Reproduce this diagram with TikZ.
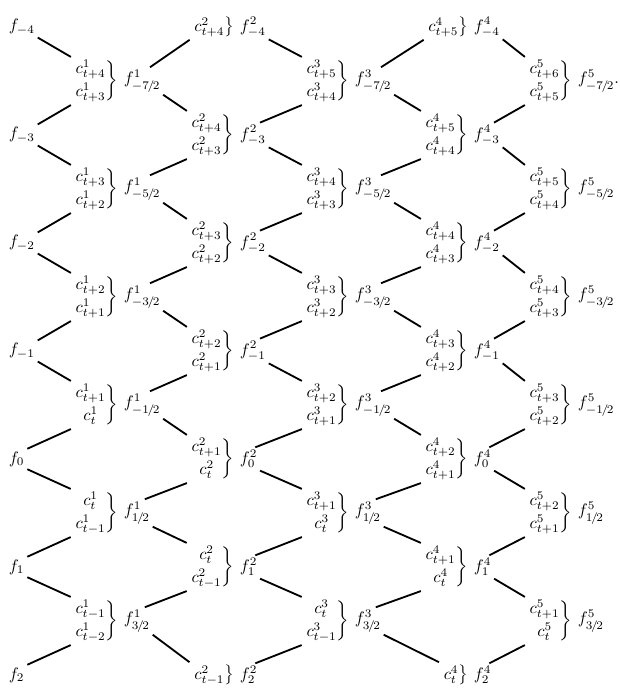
\documentclass[tikz,border=0pt]{standalone}
\usepackage{amsmath,amssymb}
\usepackage{tikz}
\usetikzlibrary{positioning,calc}
\newcommand{\cpair}[2]{\left.\begin{array}{@{}c@{}}#1\\[1.5pt]#2\end{array}\right\}}
\newcommand{\cone}[1]{\left.#1\right\}}
\newcommand{\hf}[1]{#1\mkern-2mu/\mkern-2mu2}
\tikzset{cstack/.style={anchor=east,inner sep=1.5pt},
  flab/.style={inner sep=1.5pt},
  link/.style={line width=1.1pt}}

\begin{document}
\begin{tikzpicture}[x=0.6pt,y=0.6pt]
\useasboundingbox (0,0) rectangle (620,690);
% column 0
\node[flab,anchor=west] (f0-0) at (6,663) {$f_{-4}$};
\node[flab,anchor=west] (f0-2) at (6,555) {$f_{-3}$};
\node[flab,anchor=west] (f0-4) at (6,447) {$f_{-2}$};
\node[flab,anchor=west] (f0-6) at (6,339) {$f_{-1}$};
\node[flab,anchor=west] (f0-8) at (6,231) {$f_{0}$};
\node[flab,anchor=west] (f0-10) at (6,123) {$f_{1}$};
\node[flab,anchor=west] (f0-12) at (6,15) {$f_{2}$};
% column 1
\node[cstack] (c1-1) at (121,609) {$\cpair{c^1_{t+4}}{c^1_{t+3}}$};
\node[flab,right=0pt of c1-1] (f1-1) {$f^1_{-\hf7}$};
\node[cstack] (c1-3) at (121,501) {$\cpair{c^1_{t+3}}{c^1_{t+2}}$};
\node[flab,right=0pt of c1-3] (f1-3) {$f^1_{-\hf5}$};
\node[cstack] (c1-5) at (121,393) {$\cpair{c^1_{t+2}}{c^1_{t+1}}$};
\node[flab,right=0pt of c1-5] (f1-5) {$f^1_{-\hf3}$};
\node[cstack] (c1-7) at (121,285) {$\cpair{c^1_{t+1}}{c^1_{t}}$};
\node[flab,right=0pt of c1-7] (f1-7) {$f^1_{-\hf1}$};
\node[cstack] (c1-9) at (121,177) {$\cpair{c^1_{t}}{c^1_{t-1}}$};
\node[flab,right=0pt of c1-9] (f1-9) {$f^1_{\hf1}$};
\node[cstack] (c1-11) at (121,69) {$\cpair{c^1_{t-1}}{c^1_{t-2}}$};
\node[flab,right=0pt of c1-11] (f1-11) {$f^1_{\hf3}$};
% column 2
\node[cstack] (c2-0) at (237,663) {$\cone{c^2_{t+4}}$};
\node[flab,right=0pt of c2-0] (f2-0) {$f^2_{-4}$};
\node[cstack] (c2-2) at (237,555) {$\cpair{c^2_{t+4}}{c^2_{t+3}}$};
\node[flab,right=0pt of c2-2] (f2-2) {$f^2_{-3}$};
\node[cstack] (c2-4) at (237,447) {$\cpair{c^2_{t+3}}{c^2_{t+2}}$};
\node[flab,right=0pt of c2-4] (f2-4) {$f^2_{-2}$};
\node[cstack] (c2-6) at (237,339) {$\cpair{c^2_{t+2}}{c^2_{t+1}}$};
\node[flab,right=0pt of c2-6] (f2-6) {$f^2_{-1}$};
\node[cstack] (c2-8) at (237,231) {$\cpair{c^2_{t+1}}{c^2_{t}}$};
\node[flab,right=0pt of c2-8] (f2-8) {$f^2_{0}$};
\node[cstack] (c2-10) at (237,123) {$\cpair{c^2_{t}}{c^2_{t-1}}$};
\node[flab,right=0pt of c2-10] (f2-10) {$f^2_{1}$};
\node[cstack] (c2-12) at (237,15) {$\cone{c^2_{t-1}}$};
\node[flab,right=0pt of c2-12] (f2-12) {$f^2_{2}$};
% column 3
\node[cstack] (c3-1) at (352,609) {$\cpair{c^3_{t+5}}{c^3_{t+4}}$};
\node[flab,right=0pt of c3-1] (f3-1) {$f^3_{-\hf7}$};
\node[cstack] (c3-3) at (352,501) {$\cpair{c^3_{t+4}}{c^3_{t+3}}$};
\node[flab,right=0pt of c3-3] (f3-3) {$f^3_{-\hf5}$};
\node[cstack] (c3-5) at (352,393) {$\cpair{c^3_{t+3}}{c^3_{t+2}}$};
\node[flab,right=0pt of c3-5] (f3-5) {$f^3_{-\hf3}$};
\node[cstack] (c3-7) at (352,285) {$\cpair{c^3_{t+2}}{c^3_{t+1}}$};
\node[flab,right=0pt of c3-7] (f3-7) {$f^3_{-\hf1}$};
\node[cstack] (c3-9) at (352,177) {$\cpair{c^3_{t+1}}{c^3_{t}}$};
\node[flab,right=0pt of c3-9] (f3-9) {$f^3_{\hf1}$};
\node[cstack] (c3-11) at (352,69) {$\cpair{c^3_{t}}{c^3_{t-1}}$};
\node[flab,right=0pt of c3-11] (f3-11) {$f^3_{\hf3}$};
% column 4
\node[cstack] (c4-0) at (471,663) {$\cone{c^4_{t+5}}$};
\node[flab,right=0pt of c4-0] (f4-0) {$f^4_{-4}$};
\node[cstack] (c4-2) at (471,555) {$\cpair{c^4_{t+5}}{c^4_{t+4}}$};
\node[flab,right=0pt of c4-2] (f4-2) {$f^4_{-3}$};
\node[cstack] (c4-4) at (471,447) {$\cpair{c^4_{t+4}}{c^4_{t+3}}$};
\node[flab,right=0pt of c4-4] (f4-4) {$f^4_{-2}$};
\node[cstack] (c4-6) at (471,339) {$\cpair{c^4_{t+3}}{c^4_{t+2}}$};
\node[flab,right=0pt of c4-6] (f4-6) {$f^4_{-1}$};
\node[cstack] (c4-8) at (471,231) {$\cpair{c^4_{t+2}}{c^4_{t+1}}$};
\node[flab,right=0pt of c4-8] (f4-8) {$f^4_{0}$};
\node[cstack] (c4-10) at (471,123) {$\cpair{c^4_{t+1}}{c^4_{t}}$};
\node[flab,right=0pt of c4-10] (f4-10) {$f^4_{1}$};
\node[cstack] (c4-12) at (471,15) {$\cone{c^4_{t}}$};
\node[flab,right=0pt of c4-12] (f4-12) {$f^4_{2}$};
% column 5
\node[cstack] (c5-1) at (575,609) {$\cpair{c^5_{t+6}}{c^5_{t+5}}$};
\node[flab,right=0pt of c5-1] (f5-1) {$f^5_{-\hf7}.$};
\node[cstack] (c5-3) at (575,501) {$\cpair{c^5_{t+5}}{c^5_{t+4}}$};
\node[flab,right=0pt of c5-3] (f5-3) {$f^5_{-\hf5}$};
\node[cstack] (c5-5) at (575,393) {$\cpair{c^5_{t+4}}{c^5_{t+3}}$};
\node[flab,right=0pt of c5-5] (f5-5) {$f^5_{-\hf3}$};
\node[cstack] (c5-7) at (575,285) {$\cpair{c^5_{t+3}}{c^5_{t+2}}$};
\node[flab,right=0pt of c5-7] (f5-7) {$f^5_{-\hf1}$};
\node[cstack] (c5-9) at (575,177) {$\cpair{c^5_{t+2}}{c^5_{t+1}}$};
\node[flab,right=0pt of c5-9] (f5-9) {$f^5_{\hf1}$};
\node[cstack] (c5-11) at (575,69) {$\cpair{c^5_{t+1}}{c^5_{t}}$};
\node[flab,right=0pt of c5-11] (f5-11) {$f^5_{\hf3}$};
% links 0 -> 1
\draw[link] (f0-0.south east)--(c1-1.north west)
 (f0-2.north east)--(c1-1.south west) (f0-2.south east)--(c1-3.north west)
 (f0-4.north east)--(c1-3.south west) (f0-4.south east)--(c1-5.north west)
 (f0-6.north east)--(c1-5.south west) (f0-6.south east)--(c1-7.north west)
 (f0-8.north east)--(c1-7.south west) (f0-8.south east)--(c1-9.north west)
 (f0-10.north east)--(c1-9.south west) (f0-10.south east)--(c1-11.north west)
 (f0-12.north east)--(c1-11.south west);
% links 1 -> 2
\draw[link] (f1-1.60)--(c2-0.south west) (f1-1.south east)--(c2-2.north west)
 (f1-3.60)--(c2-2.south west) (f1-3.south east)--(c2-4.north west)
 (f1-5.60)--(c2-4.south west) (f1-5.south east)--(c2-6.north west)
 (f1-7.60)--(c2-6.south west) (f1-7.south east)--(c2-8.north west)
 (f1-9.60)--(c2-8.south west) (f1-9.south east)--(c2-10.north west)
 (f1-11.60)--(c2-10.south west) (f1-11.south east)--(c2-12.north west);
% links 2 -> 3
\draw[link] (f2-0.south east)--(c3-1.north west)
 (f2-2.60)--(c3-1.south west) (f2-2.south east)--(c3-3.north west)
 (f2-4.60)--(c3-3.south west) (f2-4.south east)--(c3-5.north west)
 (f2-6.60)--(c3-5.south west) (f2-6.south east)--(c3-7.north west)
 (f2-8.60)--(c3-7.south west) (f2-8.south east)--(c3-9.north west)
 (f2-10.60)--(c3-9.south west) (f2-10.south east)--(c3-11.north west)
 (f2-12.60)--(c3-11.south west);
% links 3 -> 4
\draw[link] (f3-1.60)--(c4-0.south west) (f3-1.south east)--(c4-2.north west)
 (f3-3.60)--(c4-2.south west) (f3-3.south east)--(c4-4.north west)
 (f3-5.60)--(c4-4.south west) (f3-5.south east)--(c4-6.north west)
 (f3-7.60)--(c4-6.south west) (f3-7.south east)--(c4-8.north west)
 (f3-9.60)--(c4-8.south west) (f3-9.south east)--(c4-10.north west)
 (f3-11.60)--(c4-10.south west) (f3-11.south east)--(c4-12.north west);
% links 4 -> 5
\draw[link] (f4-0.south east)--(c5-1.north west)
 (f4-2.60)--(c5-1.south west) (f4-2.south east)--(c5-3.north west)
 (f4-4.60)--(c5-3.south west) (f4-4.south east)--(c5-5.north west)
 (f4-6.60)--(c5-5.south west) (f4-6.south east)--(c5-7.north west)
 (f4-8.60)--(c5-7.south west) (f4-8.south east)--(c5-9.north west)
 (f4-10.60)--(c5-9.south west) (f4-10.south east)--(c5-11.north west)
 (f4-12.60)--(c5-11.south west);
\end{tikzpicture}
\end{document}
